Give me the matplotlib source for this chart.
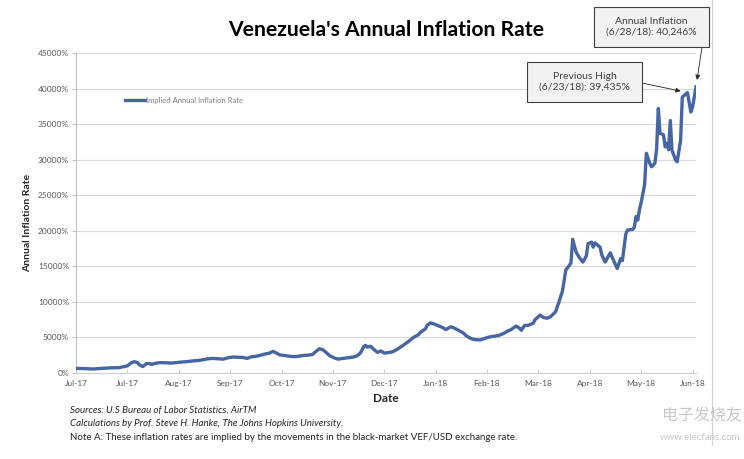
import matplotlib
matplotlib.use("Agg")
import matplotlib.pyplot as plt
from matplotlib.patches import Rectangle
from matplotlib.lines import Line2D
from matplotlib.ticker import FuncFormatter
import pandas as pd

# ---------------- data ----------------
dates = [
    "2017-07-01", "2017-07-06", "2017-07-11", "2017-07-16", "2017-07-21", "2017-07-26",
    "2017-07-29", "2017-07-31", "2017-08-02", "2017-08-04", "2017-08-06", "2017-08-07",
    "2017-08-09", "2017-08-11", "2017-08-13", "2017-08-14", "2017-08-17", "2017-08-19",
    "2017-08-22", "2017-08-25", "2017-08-28", "2017-09-01", "2017-09-04", "2017-09-07",
    "2017-09-10", "2017-09-13", "2017-09-16", "2017-09-19", "2017-09-22", "2017-09-25",
    "2017-09-28", "2017-10-01", "2017-10-04", "2017-10-06", "2017-10-09", "2017-10-11",
    "2017-10-14", "2017-10-16", "2017-10-19", "2017-10-22", "2017-10-24", "2017-10-26",
    "2017-10-28", "2017-10-31", "2017-11-03", "2017-11-05", "2017-11-08", "2017-11-10",
    "2017-11-13", "2017-11-16", "2017-11-18", "2017-11-20", "2017-11-22", "2017-11-24",
    "2017-11-26", "2017-11-29", "2017-12-01", "2017-12-04", "2017-12-07", "2017-12-10",
    "2017-12-12", "2017-12-14", "2017-12-16", "2017-12-17", "2017-12-18", "2017-12-20",
    "2017-12-22", "2017-12-24", "2017-12-26", "2017-12-28", "2017-12-31", "2018-01-02",
    "2018-01-05", "2018-01-08", "2018-01-11", "2018-01-14", "2018-01-17", "2018-01-18",
    "2018-01-21", "2018-01-22", "2018-01-24", "2018-01-26", "2018-01-28", "2018-01-31",
    "2018-02-02", "2018-02-04", "2018-02-05", "2018-02-07", "2018-02-10", "2018-02-12",
    "2018-02-14", "2018-02-17", "2018-02-19", "2018-02-22", "2018-02-25", "2018-02-28",
    "2018-03-03", "2018-03-05", "2018-03-08", "2018-03-10", "2018-03-12", "2018-03-15",
    "2018-03-17", "2018-03-18", "2018-03-20", "2018-03-22", "2018-03-25", "2018-03-26",
    "2018-03-29", "2018-03-31", "2018-04-02", "2018-04-04", "2018-04-07", "2018-04-08",
    "2018-04-09", "2018-04-11", "2018-04-12", "2018-04-13", "2018-04-15", "2018-04-16",
    "2018-04-17", "2018-04-19", "2018-04-21", "2018-04-23", "2018-04-25", "2018-04-26",
    "2018-04-28", "2018-04-29", "2018-04-30", "2018-05-02", "2018-05-03", "2018-05-04",
    "2018-05-06", "2018-05-08", "2018-05-09", "2018-05-10", "2018-05-13", "2018-05-15",
    "2018-05-16", "2018-05-18", "2018-05-19", "2018-05-22", "2018-05-23", "2018-05-24",
    "2018-05-25", "2018-05-26", "2018-05-27", "2018-05-29", "2018-05-30", "2018-06-01",
    "2018-06-02", "2018-06-04", "2018-06-05", "2018-06-06", "2018-06-07", "2018-06-09",
    "2018-06-10", "2018-06-11", "2018-06-12", "2018-06-13", "2018-06-14", "2018-06-16",
    "2018-06-17", "2018-06-19", "2018-06-20", "2018-06-23", "2018-06-25", "2018-06-26",
    "2018-06-28",
]
inflation = [
    650, 620, 560, 650, 720, 750,
    900, 1000, 1400, 1600, 1450, 1150,
    900, 1300, 1350, 1200, 1400, 1450,
    1450, 1400, 1450, 1550, 1600, 1700,
    1750, 1850, 2000, 2050, 2000, 1950,
    2150, 2250, 2200, 2200, 2050, 2250,
    2350, 2450, 2650, 2800, 3050, 2800,
    2550, 2450, 2350, 2300, 2350, 2450,
    2500, 2600, 3000, 3400, 3300, 2900,
    2450, 2100, 1950, 2050, 2150, 2250,
    2400, 2800, 3700, 3900, 3650, 3750,
    3300, 2900, 3100, 2800, 2900, 3000,
    3400, 3900, 4400, 5000, 5400, 5700,
    6200, 6700, 7050, 6900, 6700, 6400,
    6100, 6400, 6500, 6300, 5900, 5650,
    5200, 4800, 4700, 4650, 4900, 5100,
    5200, 5300, 5600, 5900, 6100, 6600,
    6300, 6000, 6700, 6700, 7000, 7500,
    8150, 7800, 7700, 7900, 8600, 9300,
    10000, 11500, 13000, 14500, 15100, 15500,
    18800, 17000, 16200, 15600, 16500, 18200,
    18400, 17700, 18300, 17900, 17700, 16600,
    15600, 16500, 16900, 16300, 14700, 16100,
    15800, 19500, 20100, 20200, 20500, 22000,
    21500, 23000, 24000, 26500, 30900, 29500,
    29000, 29500, 31500, 37200, 33700, 33500,
    31800, 32300, 31400, 35500, 31300, 30000,
    29700, 32700, 38800, 39435, 36700, 37400,
    40246,
]
x_tick_labels = ["Jul-17", "Jul-17", "Aug-17", "Sep-17", "Oct-17", "Nov-17", "Dec-17",
                 "Jan-18", "Feb-18", "Mar-18", "Apr-18", "May-18", "Jun-18"]
y_ticks = [0, 5000, 10000, 15000, 20000, 25000, 30000, 35000, 40000, 45000]
series_name = "Implied Annual Inflation Rate"
title = "Venezuela's Annual Inflation Rate"
notes = [
    ("Sources: U.S Bureau of Labor Statistics, AirTM", "italic"),
    ("Calculations by Prof. Steve H. Hanke, The Johns Hopkins University.", "italic"),
    ("Note A: These inflation rates are implied by the movements in the black-market VEF/USD exchange rate.", "normal"),
]
callout_current = ("Annual Inflation\n(6/28/18): 40,246%", "2018-06-28", 40246)
callout_prev = ("Previous High\n(6/23/18): 39,435%", "2018-06-23", 39435)

# ---------------- figure ----------------
W, H = 744, 459
plt.rcParams['font.family'] = ['Lato', 'DejaVu Sans']
fig = plt.figure(figsize=(W / 100, H / 100), dpi=100)
fig.patch.set_facecolor("white")

def fx(px):
    return px / W

def fy(py):
    return 1 - py / H

L, R, T, B = 76, 696, 53, 373
ax = fig.add_axes([fx(L), fy(B), fx(R) - fx(L), fy(T) - fy(B)])

d = pd.to_datetime(dates)
line_color = "#4565a3"
ax.plot(d, inflation, color=line_color, lw=2.4, solid_joinstyle="round",
        label=series_name, zorder=3)

ax.set_ylim(0, 45000)
ax.set_yticks(y_ticks)
ax.yaxis.set_major_formatter(FuncFormatter(lambda v, p: f"{int(v)}%"))
tick_pos = pd.date_range(d[0], periods=len(x_tick_labels), freq="30D")
ax.set_xticks(tick_pos)
ax.set_xticklabels(x_tick_labels)
ax.set_xlim(d[0], d[-1])

ax.grid(axis="y", color="#d9d9d9", lw=0.8)
ax.set_axisbelow(True)
for s in ["top", "right"]:
    ax.spines[s].set_visible(False)
ax.spines["left"].set_color("#bfbfbf")
ax.spines["bottom"].set_color("#d0d0d0")
ax.spines["left"].set_linewidth(0.8)
ax.spines["bottom"].set_linewidth(0.8)
ax.tick_params(axis="y", length=3, width=0.7, color="#bfbfbf", labelsize=6,
               labelcolor="#595959", pad=2)
ax.tick_params(axis="x", direction="in", length=3, width=0.7, color="#d0d0d0",
               labelsize=6, labelcolor="#595959", pad=5)

ax.set_xlabel("Date", fontsize=8.5, fontweight="bold", color="#262626", labelpad=4)
ax.set_ylabel("Annual Inflation Rate", fontsize=7.5, fontweight="bold", color="#262626")
ax.yaxis.set_label_coords((32 - L) / (R - L), 0.47)

# legend
leg = ax.legend(loc="upper left", frameon=False, fontsize=5.5,
                handlelength=2.6, handletextpad=0.2, labelcolor="#7f7f7f")
leg.set_bbox_to_anchor((fx(118), fy(90)), transform=fig.transFigure)

# title
fig.text(fx(386), fy(30), title, ha="center", va="center", fontsize=15.2,
         fontweight="bold", color="#000000")

# callouts
def callout(text, x0, y0, x1, y1, date, val, start):
    fig.patches.append(Rectangle((fx(x0), fy(y1)), fx(x1) - fx(x0), fy(y0) - fy(y1),
                                 transform=fig.transFigure, facecolor="#f2f2f2",
                                 edgecolor="#3f3f3f", lw=0.8, zorder=5))
    fig.text(fx((x0 + x1) / 2), fy((y0 + y1) / 2), text, ha="center", va="center",
             fontsize=7.5, color="#404040", linespacing=1.3, zorder=6)
    ax.annotate("", xy=(pd.Timestamp(date), val), xytext=(fx(start[0]), fy(start[1])),
                textcoords="figure fraction",
                arrowprops=dict(arrowstyle="-|>", color="#262626", lw=0.6,
                                shrinkA=0, shrinkB=5, mutation_scale=7),
                annotation_clip=False, zorder=6)

callout(callout_current[0], 594, 7, 709, 47, callout_current[1], callout_current[2], (702, 47))
callout(callout_prev[0], 527, 62, 642, 102, callout_prev[1], callout_prev[2], (642, 83))

# footnotes
for i, (t, style) in enumerate(notes):
    fig.text(fx(70), fy(410 + 13.5 * i), t, ha="left", va="center", fontsize=7,
             style=style, color="#262626")

# right border of chart area
fig.add_artist(Line2D([fx(712), fx(712)], [fy(0), fy(445)], transform=fig.transFigure,
                      color="#d0d0d0", lw=0.8))

# watermark
fig.text(fx(702), fy(416), "电子发烧友", ha="center", va="center", fontsize=11.5,
         family=["Noto Sans CJK SC", "DejaVu Sans"], color="#c8c8c8", style="italic")
fig.text(fx(700), fy(437), "www.elecfans.com", ha="center", va="center", fontsize=7,
         color="#c8c8c8")

fig.savefig("out.png", dpi=100)
